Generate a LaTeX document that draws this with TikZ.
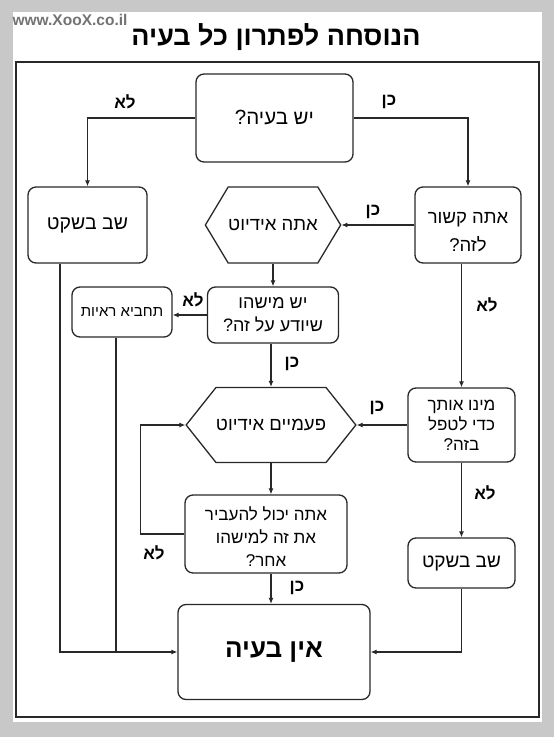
\documentclass[tikz,border=0pt]{standalone}
\usepackage{fontspec}
\setmainfont{Liberation Sans}
\newfontfamily\hebfont[Script=Hebrew]{Liberation Sans}
\TeXXeTstate=1
\usetikzlibrary{arrows.meta, shapes.symbols}
\newcommand{\heb}[1]{{\hebfont\beginR #1\endR}}
\definecolor{pagegray}{RGB}{200,200,200}
\definecolor{inkgray}{RGB}{40,40,40}

\begin{document}
\begin{tikzpicture}[
    x=1pt, y=-1pt,
    box/.style={rectangle, rounded corners=8pt, draw=inkgray, line width=1.3pt, fill=white, text=black, align=center, inner sep=0pt, font=\fontsize{19}{24}\selectfont},
    hexa/.style={signal, signal to=east and west, draw=inkgray, line width=1.3pt, fill=white, text=black, align=center, inner sep=0pt, font=\fontsize{18.5}{24}\selectfont},
    lbl/.style={font=\bfseries\fontsize{17}{20}\selectfont, inner sep=0pt},
    arrow/.style={-{Latex[length=6pt,width=5pt]}, line width=1.1pt, draw=inkgray}
]
\fill[pagegray] (0,0) rectangle (554,737);
\fill[white] (13,12) rectangle (542,722);
\draw[inkgray, line width=1.3pt] (16,62) rectangle (539,717);

\node[font=\bfseries\fontsize{15.5}{16}\selectfont, text=black!55] (mark) at (70,20) {www.XooX.co.il};
\node[font=\bfseries\fontsize{27}{30}\selectfont] (title) at (276,37) {\heb{הנוסחה לפתרון כל בעיה}};

\node[box, minimum width=157pt, minimum height=88pt, font=\fontsize{20.5}{24}\selectfont] (q1) at (274.5,118) {\heb{יש בעיה?}};
\node[box, minimum width=119pt, minimum height=76pt, font=\fontsize{19.5}{24}\selectfont] (sit1) at (87.5,225) {\heb{שב בשקט}};
\node[hexa, minimum width=118pt, minimum height=76pt, signal pointer angle=118] (idiot) at (273,225) {\heb{אתה אידיוט}};
\node[box, minimum width=106pt, minimum height=76pt, font=\fontsize{18.5}{28}\selectfont] (related) at (468,225) {\rule{0pt}{25pt}\heb{אתה קשור}\\\heb{לזה?}};
\node[box, minimum width=131pt, minimum height=56pt, font=\fontsize{18}{23}\selectfont] (someone) at (273,315) {\heb{יש מישהו}\\\heb{שיודע על זה?}};
\node[box, minimum width=100pt, minimum height=50pt, font=\fontsize{15}{18}\selectfont] (hide) at (122,312) {\heb{תחביא ראיות}};
\node[hexa, minimum width=148pt, minimum height=75pt, signal pointer angle=103] (idiot2) at (271,425) {\heb{פעמיים אידיוט}};
\node[box, minimum width=107pt, minimum height=74pt, font=\fontsize{17}{20}\selectfont] (appointed) at (461.5,425) {\heb{מינו אותך}\\\heb{כדי לטפל}\\\heb{בזה?}};
\node[box, minimum width=162pt, minimum height=78pt, font=\fontsize{17}{23}\selectfont] (pass) at (266,534) {\rule{0pt}{18pt}\heb{אתה יכול להעביר}\\\heb{את זה למישהו}\\\heb{אחר?}};
\node[box, minimum width=107pt, minimum height=50pt] (sit2) at (461.5,563) {\heb{שב בשקט}};
\node[box, minimum width=192pt, minimum height=95pt, font=\bfseries\fontsize{26}{28}\selectfont] (noprob) at (274,652) {\heb{אין בעיה}};

\node[lbl] (no1) at (125,102) {\heb{לא}};
\node[lbl] (yes1) at (389,102) {\heb{כן}};
\node[lbl] (yes2) at (373,212) {\heb{כן}};
\node[lbl] (no2) at (193,300) {\heb{לא}};
\node[lbl] (no3) at (487,305) {\heb{לא}};
\node[lbl] (yes3) at (292,364) {\heb{כן}};
\node[lbl] (yes4) at (377,408) {\heb{כן}};
\node[lbl] (no4) at (485,493) {\heb{לא}};
\node[lbl] (no5) at (154,553) {\heb{לא}};
\node[lbl] (yes5) at (297,588) {\heb{כן}};

\draw[arrow] (q1.west) -| (sit1.north);
\draw[arrow] (q1.east) -| (related.north);
\draw[arrow] (related.west) -- (idiot.east);
\draw[arrow] (idiot.south) -- (someone.north);
\draw[arrow] (someone.west) -- (someone.west -| hide.east);
\draw[arrow] (someone.south -| idiot2.north) -- (idiot2.north);
\draw[arrow] (appointed.west) -- (idiot2.east);
\draw[arrow] (idiot2.south) -- (idiot2.south |- pass.north);
\draw[arrow] (pass.west) -- ++(-44,0) |- (idiot2.west);
\draw[arrow] (pass.south -| idiot2.south) -- (noprob.north -| idiot2.south);
\draw[arrow] (related.south -| appointed.north) -- (appointed.north);
\draw[arrow] (appointed.south) -- (sit2.north);
\draw[arrow] (sit2.south) |- (noprob.east);
\draw[arrow] ([xshift=-27.5pt]sit1.south) |- (noprob.west);
\draw[inkgray, line width=1.1pt] ([xshift=-6pt]hide.south) -- ([xshift=-6pt]hide.south |- noprob.west);
\end{tikzpicture}
\end{document}
